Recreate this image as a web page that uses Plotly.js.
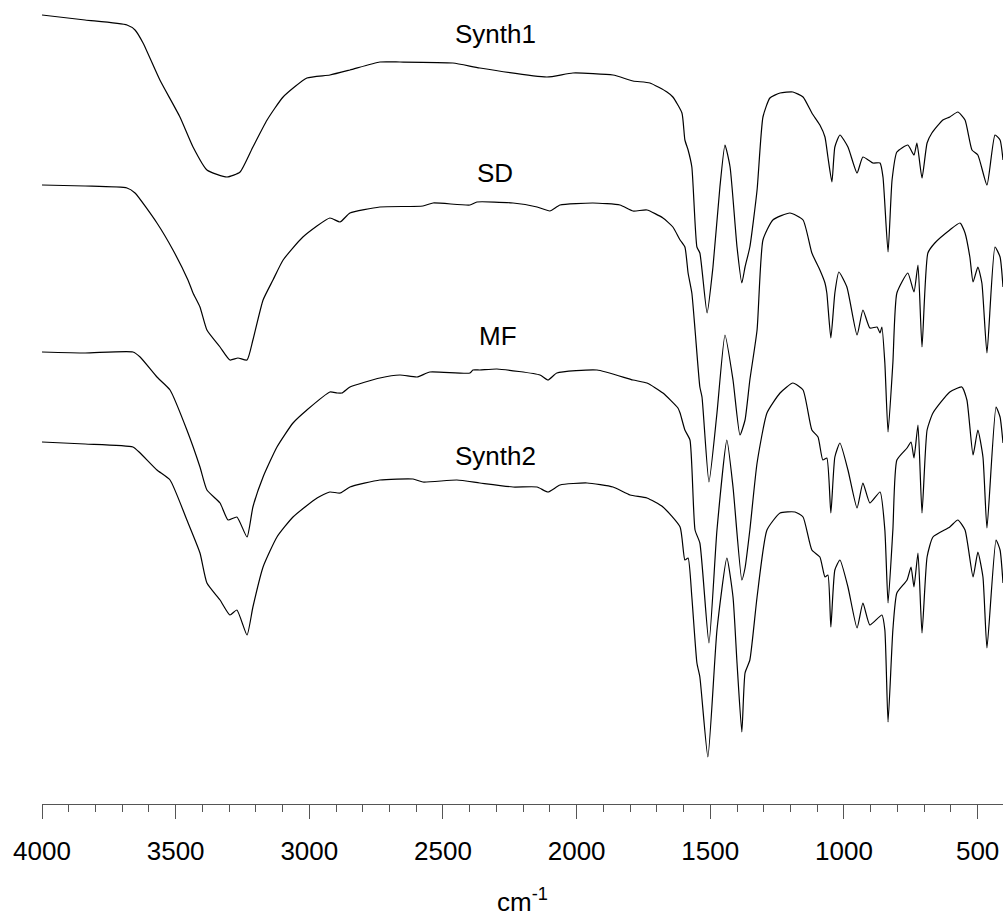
<!DOCTYPE html>
<html>
<head>
<meta charset="utf-8">
<script src="https://cdn.plot.ly/plotly-3.0.1.min.js"></script>
<style>
  html, body { margin: 0; padding: 0; background: #ffffff; }
  #chart { width: 1003px; height: 922px; }
</style>
</head>
<body>
<div id="chart"></div>
<script>
// Wavenumbers (cm-1) and offset intensities (a.u.)
const synth1_x = [4000,3839,3682,3652,3622,3559,3484,3435,3383,3308,3259,3211,3158,3098,3009,2923,2848,2736,2661,2463,2362,2111,2014,1864,1789,1726,1662,1640,1606,1595,1583,1569,1550,1539,1512,1490,1464,1445,1426,1400,1382,1370,1352,1325,1303,1277,1239,1191,1153,1120,1090,1071,1060,1045,1034,1015,985,951,929,891,865,854,835,820,802,761,738,727,708,689,671,630,604,574,547,521,499,465,435,416,405];
const synth1_y = [78.9,78.4,77.9,77.4,76.1,72.4,68.7,65.7,63.4,62.7,63.2,65.7,68.4,70.7,72.6,72.9,73.4,74.2,74.2,74.1,73.6,72.7,73.1,72.9,72.3,72.1,71.2,70.7,69.1,66.4,65.4,63.7,55.7,55.1,49.1,53.7,61.7,65.9,63.7,55.7,52.1,53.7,55.7,61.4,68.7,70.6,71.1,71.2,70.7,69.1,67.9,66.7,64.7,62.2,65.7,66.9,65.7,63.1,64.7,64.1,64.1,62.7,55.2,62.4,65.2,65.9,64.9,66.1,62.6,66.1,67.1,68.4,68.7,69.2,68.4,65.4,64.9,61.9,66.9,66.4,64.4];

const sd_x = [4000,3839,3682,3652,3570,3510,3454,3435,3409,3383,3334,3297,3267,3233,3211,3173,3136,3098,3024,2923,2885,2848,2736,2575,2537,2399,2373,2238,2148,2100,2062,1939,1838,1789,1737,1677,1640,1613,1595,1583,1569,1557,1539,1531,1505,1475,1445,1415,1389,1370,1352,1325,1303,1266,1202,1153,1120,1090,1071,1064,1049,1034,1019,989,951,929,903,876,865,858,847,835,817,802,761,738,723,708,686,660,604,566,547,529,517,499,484,465,435,416,405];
const sd_y = [61.9,61.8,61.6,61.1,58.1,55.4,52.4,51.1,49.7,47.4,45.7,44.4,44.6,44.4,46.4,50.4,52.4,54.4,56.7,58.6,58.2,59.1,59.7,59.8,60.1,59.9,60.2,60.1,59.7,59.3,59.9,60.1,59.9,59.3,59.4,58.6,57.7,56.4,55.7,53.1,51.1,47.4,41.7,40.7,32.2,39.1,46.9,42.4,36.9,38.4,42.4,47.4,56.4,58.4,59.1,58.4,55.1,53.4,52.1,51.1,46.6,51.1,53.2,51.7,46.9,49.4,47.6,47.7,47.1,47.7,44.1,37.2,44.1,51.1,53.1,51.2,53.9,45.7,55.1,56.1,57.4,58.1,57.1,54.7,52.2,53.7,52.1,45.1,55.7,54.7,51.7];

const mf_x = [4000,3839,3660,3633,3570,3521,3458,3409,3383,3334,3304,3271,3233,3211,3173,3121,3061,3009,2923,2896,2878,2848,2736,2661,2597,2549,2399,2388,2362,2298,2137,2107,2074,1924,1789,1737,1677,1621,1613,1595,1576,1557,1539,1505,1475,1438,1415,1382,1370,1352,1325,1288,1239,1191,1153,1120,1097,1079,1064,1049,1034,1015,985,951,929,903,865,847,835,817,802,764,749,738,723,708,689,667,604,559,540,517,499,480,465,431,416,405];
const mf_y = [45.2,45.1,45.2,44.7,42.7,41.4,37.4,33.7,31.4,30.1,28.4,28.7,26.7,29.7,32.7,35.7,38.1,39.4,41.2,41.1,41.1,41.7,42.6,42.9,42.7,43.2,43.1,43.4,43.4,43.5,42.9,42.4,43.1,43.4,42.4,42.1,41.1,39.6,39.1,37.4,36.4,27.4,26.1,16.1,27.4,36.4,31.7,22.4,23.6,27.4,34.1,39.1,41.1,42.1,41.4,37.4,36.7,34.4,34.6,29.1,34.7,36.1,33.4,29.6,32.1,30.1,31.2,27.4,20.1,27.4,34.4,35.6,36.2,34.6,37.9,29.1,37.4,39.1,41.2,41.7,40.4,34.9,37.4,34.7,27.6,39.7,38.7,36.1];

const synth2_x = [4000,3839,3660,3633,3570,3521,3458,3409,3383,3334,3297,3271,3233,3211,3173,3121,3061,2971,2923,2885,2848,2736,2612,2575,2448,2362,2238,2148,2107,2062,1961,1864,1800,1737,1677,1613,1595,1583,1569,1550,1539,1509,1475,1438,1415,1400,1382,1370,1352,1325,1288,1239,1183,1153,1120,1090,1071,1060,1049,1034,1015,985,951,929,903,858,847,835,817,802,764,749,738,723,708,689,667,604,574,547,517,499,480,465,431,416,405];
const synth2_y = [36.2,36.0,35.7,35.1,33.4,32.4,28.4,25.1,22.1,20.4,18.9,19.4,16.9,19.7,23.7,26.7,28.7,30.6,31.2,31.1,31.7,32.4,32.5,32.2,32.4,32.1,31.7,31.7,31.2,31.9,32.1,31.7,30.9,30.6,29.7,27.7,24.4,24.6,20.7,14.1,12.7,4.7,17.4,24.6,20.7,14.1,7.2,13.1,14.4,20.7,27.4,29.1,29.2,28.7,25.4,24.7,22.7,22.9,17.7,23.4,24.4,21.7,17.6,20.1,17.9,18.9,17.4,8.2,17.4,21.1,22.4,23.7,21.7,25.1,17.1,24.7,26.7,27.7,28.4,27.4,22.7,25.2,22.7,15.6,26.4,25.4,22.1];

const seriesNames = ["Synth1", "SD", "MF", "Synth2"];
const labelX = [2305, 2305, 2296, 2305];
const labelY = [77.0, 63.1, 46.8, 34.8];
const xTickVals = [4000, 3500, 3000, 2500, 2000, 1500, 1000, 500];

const xs = [synth1_x, sd_x, mf_x, synth2_x];
const ys = [synth1_y, sd_y, mf_y, synth2_y];

const FONT = "Liberation Sans, Arial, Helvetica, sans-serif";

const traces = seriesNames.map((n, i) => ({
  type: "scatter",
  mode: "lines",
  name: n,
  x: xs[i],
  y: ys[i],
  line: { color: "#000000", width: 1.2, shape: "spline", smoothing: 0.5 },
  hoverinfo: "x+y+name"
}));

const annotations = seriesNames.map((n, i) => ({
  x: labelX[i], y: labelY[i], xref: "x", yref: "y",
  text: n, showarrow: false,
  xanchor: "center", yanchor: "middle",
  font: { family: FONT, size: 26, color: "#000000" }
}));

const layout = {
  width: 1003, height: 922,
  margin: { l: 42, r: 0, t: 0, b: 118, pad: 0 },
  paper_bgcolor: "#ffffff",
  plot_bgcolor: "#ffffff",
  showlegend: false,
  font: { family: FONT, size: 26, color: "#000000" },
  xaxis: {
    range: [4000, 405],
    tickvals: xTickVals,
    ticks: "outside",
    ticklen: 14,
    tickwidth: 1,
    tickcolor: "#555555",
    ticklabelstandoff: 10,
    showline: true,
    linecolor: "#555555",
    linewidth: 1,
    showgrid: false,
    zeroline: false,
    tickfont: { family: FONT, size: 26, color: "#000000" },
    minor: { dtick: 100, ticks: "outside", ticklen: 7, tickwidth: 1, tickcolor: "#555555", showgrid: false },
    title: { text: "cm<sup>-1</sup>", standoff: 27, font: { family: FONT, size: 26, color: "#000000" } },
    automargin: false
  },
  yaxis: {
    range: [0, 80.4],
    visible: false,
    showgrid: false,
    zeroline: false
  },
  annotations: annotations
};

Plotly.newPlot("chart", traces, layout, { staticPlot: true, displayModeBar: false });
</script>
</body>
</html>
